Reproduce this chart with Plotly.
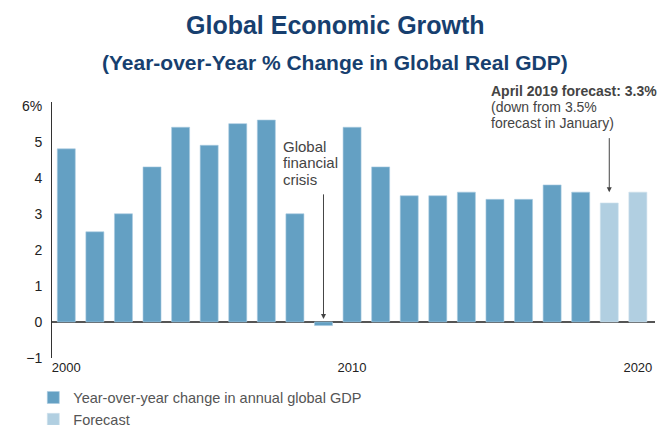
import plotly.graph_objects as go

years = list(range(2000, 2019))
growth = [4.8, 2.5, 3.0, 4.3, 5.4, 4.9, 5.5, 5.6, 3.0, -0.1, 5.4, 4.3, 3.5, 3.5, 3.6, 3.4, 3.4, 3.8, 3.6]
forecast_years = [2019, 2020]
forecast = [3.3, 3.6]
ytick_vals = [-1, 0, 1, 2, 3, 4, 5, 6]
ytick_text = ["\u22121", "0", "1", "2", "3", "4", "5", "6%"]
xtick_vals = [2000, 2010, 2020]
crisis_lines = ["Global", "financial", "crisis"]
forecast_lines = ["<b>April 2019 forecast: 3.3%</b>", "(down from 3.5%", "forecast in January)"]

FONT = "Liberation Sans, Arial, sans-serif"
TITLE_FONT = "Liberation Sans Narrow, Arial Narrow, Liberation Sans, Arial, sans-serif"

fig = go.Figure()
fig.add_trace(go.Bar(x=years, y=growth, name="Year-over-year change in annual global GDP",
                     marker=dict(color="#64a0c3", line=dict(color="#a9cbe0", width=0.6)),
                     width=0.63))
fig.add_trace(go.Bar(x=forecast_years, y=forecast, name="Forecast",
                     marker=dict(color="#b1cfe1", line=dict(color="#cfe1ec", width=0.6)),
                     width=0.63))

fig.update_layout(
    width=667, height=425,
    margin=dict(l=52, r=12, t=102, b=67, autoexpand=False),
    paper_bgcolor="white", plot_bgcolor="white",
    font=dict(family=FONT, size=13, color="#333333"),
    showlegend=True,
    legend=dict(x=-0.031, y=-0.092, xanchor="left", yanchor="top",
                font=dict(size=14.5, color="#555555"), itemwidth=30,
                bgcolor="rgba(0,0,0,0)", traceorder="normal", tracegroupgap=0),
    bargap=0.37,
)
fig.update_xaxes(range=[1999.5, 2020.6], tickvals=xtick_vals, showgrid=False,
                 showline=False, zeroline=False, ticks="", ticklabelstandoff=0,
                 tickfont=dict(size=13, color="#222222"))
fig.update_yaxes(range=[-1, 6.1], tickvals=ytick_vals, ticktext=ytick_text,
                 showgrid=False, showline=True, linecolor="#333333", linewidth=1,
                 zeroline=True, zerolinecolor="#555555", zerolinewidth=1.5,
                 ticks="", ticklabelstandoff=6, tickfont=dict(size=14, color="#222222"))

fig.add_annotation(xref="paper", yref="paper", x=0.47, y=1.0, yshift=77,
                   text="<b>Global Economic Growth</b>", showarrow=False,
                   font=dict(family=TITLE_FONT, size=25, color="#173f6f"),
                   xanchor="center", yanchor="middle")
fig.add_annotation(xref="paper", yref="paper", x=0.47, y=1.0, yshift=40,
                   text="<b>(Year-over-Year % Change in Global Real GDP)</b>", showarrow=False,
                   font=dict(family=TITLE_FONT, size=21, color="#173f6f"),
                   xanchor="center", yanchor="middle")

for i, line in enumerate(crisis_lines):
    fig.add_annotation(x=2007.5, y=4.87, yshift=-16.5 * i, xref="x", yref="y",
                       text=line, showarrow=False, xanchor="left", yanchor="middle",
                       font=dict(size=15, color="#444444"))
fig.add_annotation(x=2009, y=0.08, xref="x", yref="y", ax=2009, ay=3.58,
                   axref="x", ayref="y", text="", showarrow=True,
                   arrowhead=2, arrowsize=1, arrowwidth=1, arrowcolor="#444444")

for i, line in enumerate(forecast_lines):
    fig.add_annotation(x=2014.8, y=1.0, yshift=11 - 16 * i, xref="x", yref="paper",
                       text=line, showarrow=False, xanchor="left", yanchor="middle",
                       font=dict(size=14, color="#444444"))
fig.add_annotation(x=2019, y=3.6, xref="x", yref="y", ax=2019, ay=5.14,
                   axref="x", ayref="y", text="", showarrow=True,
                   arrowhead=2, arrowsize=1, arrowwidth=1, arrowcolor="#444444")

fig.write_html("out.html")
